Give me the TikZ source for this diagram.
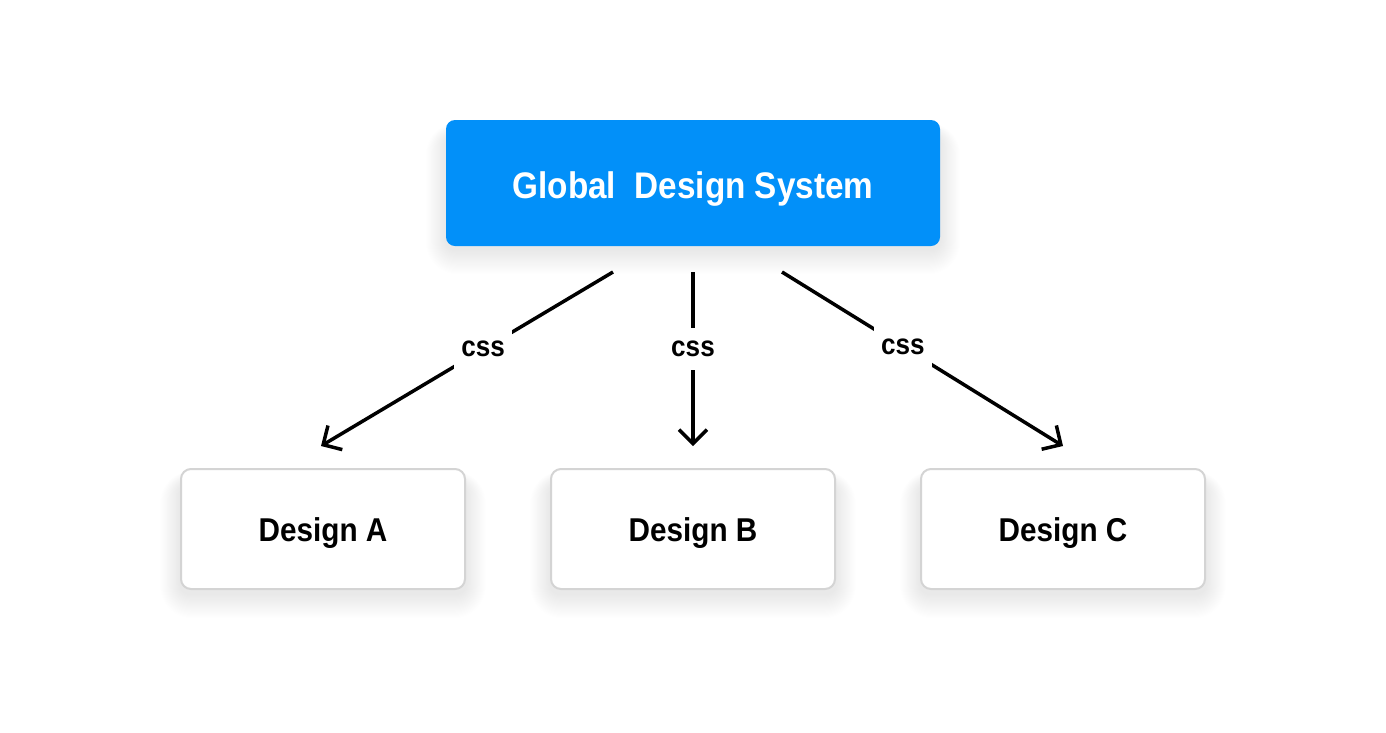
\documentclass[tikz,border=0pt]{standalone}
\usepackage{fontspec}
\newfontfamily\labfont{Liberation Sans}[FakeStretch=0.9]
\usetikzlibrary{arrows.meta,backgrounds}
\definecolor{gdsblue}{RGB}{2,144,249}
\definecolor{boxborder}{RGB}{212,212,212}
\begin{document}
\begin{tikzpicture}[x=1pt,y=-1pt,
  topbox/.style={rectangle, rounded corners=9pt, fill=gdsblue, draw=none,
    minimum width=494pt, minimum height=126pt, inner sep=0pt,
    text=white, font=\labfont\bfseries\fontsize{37}{40}\selectfont,
    text height=27pt, text depth=0pt},
  designbox/.style={rectangle, rounded corners=10pt, fill=white, draw=boxborder, line width=2pt,
    minimum width=284pt, minimum height=120pt, inner sep=0pt,
    text=black, font=\labfont\bfseries\fontsize{33}{36}\selectfont,
    text height=24pt, text depth=0pt},
  conn/.style={line width=3.5pt, -{Straight Barb[length=14pt,width=28pt]}},
  csslabel/.style={fill=white, inner sep=0pt, minimum width=58pt, minimum height=42pt,
    font=\labfont\bfseries\fontsize{29}{32}\selectfont, text height=15pt, text depth=0pt},
  shadowlayer/.style={fill=black, opacity=0.0045}
]
\useasboundingbox (0,0) rectangle (1386,732);

\node[topbox] (g) at (693,183) {\raisebox{-1.5pt}{Global\ \ Design System}};
\node[designbox] (a) at (323,529) {Design A};
\node[designbox] (b) at (693,529) {Design B};
\node[designbox] (c) at (1063,529) {Design C};

\begin{scope}[on background layer]
  \fill[white] (0,0) rectangle (1386,732);
  \foreach \n in {g,a,b,c}{
    \foreach \i in {1,...,22}{
      \fill[shadowlayer, rounded corners=10pt+\i pt]
        ([xshift=-0.9*\i pt, yshift=-14pt+0.5*\i pt]\n.north west)
        rectangle ([xshift=0.9*\i pt, yshift=-4pt-1.1*\i pt]\n.south east);
    }
  }
\end{scope}

\coordinate (s1) at (613,272);
\coordinate (e1) at (321,446);
\coordinate (s2) at (693,272);
\coordinate (e2) at (693,446);
\coordinate (s3) at (782,272);
\coordinate (e3) at (1063,446);

\draw[conn] (s1) -- node[csslabel, pos=0.445] (l1) {css} (e1);
\draw[conn] (s2) -- node[csslabel, pos=0.44] (l2) {css} (e2);
\draw[conn] (s3) -- node[csslabel, pos=0.43] (l3) {css} (e3);
\end{tikzpicture}
\end{document}
